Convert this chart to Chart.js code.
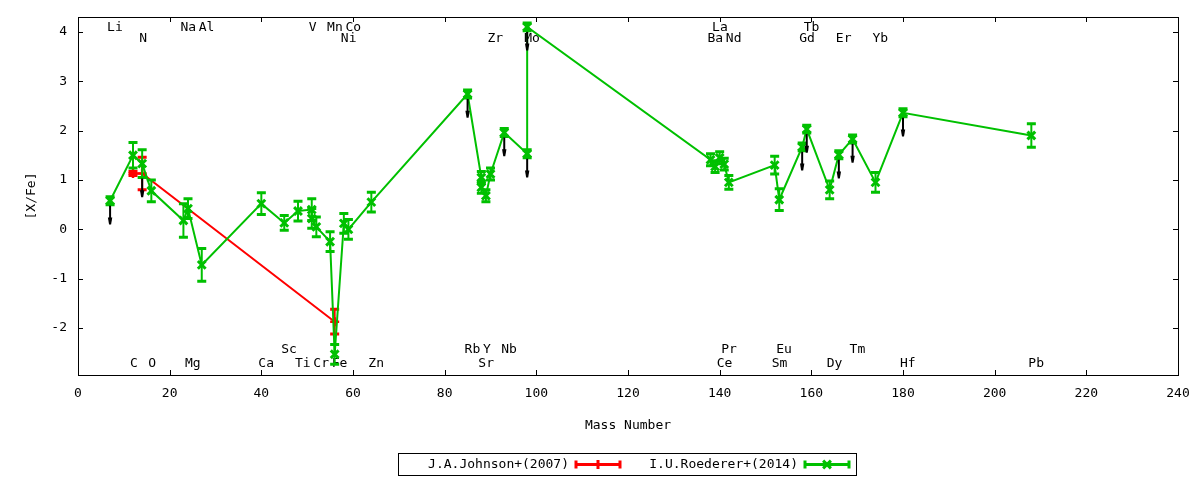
<!DOCTYPE html>
<html>
<head>
<meta charset="utf-8">
<script src="https://cdn.jsdelivr.net/npm/chart.js@4.4.0/dist/chart.umd.min.js"></script>
<style>
  html, body { margin: 0; padding: 0; background: #fff; }
  #wrap { width: 1200px; height: 480px; }
</style>
</head>
<body>
<div id="wrap"><canvas id="abundance" width="1200" height="480"></canvas></div>
<script>
"use strict";

// J.A.Johnson+(2007)
const johnsonMass  = [12, 14, 56];
const johnsonVal   = [1.13, 1.13, -1.87];
const johnsonErr   = [0.04, 0.33, 0.25];
const johnsonUpper = [0, 1, 0];

// I.U.Roederer+(2014)
const roedererMass  = [7, 12, 14, 16, 23, 24, 27, 40, 45, 48, 51, 51, 52, 55, 56, 58, 59, 64,
                       85, 88, 88, 89, 90, 93, 98, 98, 138, 139, 140, 141, 142, 152, 153,
                       158, 159, 164, 166, 169, 174, 180, 208];
const roedererVal   = [0.58, 1.50, 1.33, 0.78, 0.18, 0.42, -0.72, 0.52, 0.13, 0.37, 0.40, 0.22, 0.05, -0.25, -2.53, 0.12, 0.00, 0.55,
                       2.74, 1.05, 0.85, 0.68, 1.12, 1.96, 1.53, 4.10, 1.41, 1.27, 1.45, 1.32, 0.95, 1.30, 0.60,
                       1.67, 2.03, 0.80, 1.51, 1.83, 0.95, 2.36, 1.90];
const roedererErr   = [0.08, 0.26, 0.28, 0.22, 0.34, 0.20, 0.33, 0.22, 0.15, 0.20, 0.22, 0.20, 0.20, 0.20, 0.20, 0.20, 0.20, 0.20,
                       0.08, 0.12, 0.12, 0.12, 0.12, 0.08, 0.08, 0.08, 0.12, 0.12, 0.12, 0.12, 0.14, 0.18, 0.22,
                       0.08, 0.08, 0.18, 0.08, 0.08, 0.20, 0.08, 0.24];
const roedererUpper = [1, 0, 0, 0, 0, 0, 0, 0, 0, 0, 0, 0, 0, 0, 0, 0, 0, 0,
                       1, 0, 0, 0, 0, 1, 1, 1, 0, 0, 0, 0, 0, 0, 0,
                       1, 1, 0, 1, 1, 0, 1, 0];

// element labels: name, mass number, [X/Fe] height of the label
const elemNames  = ['Li', 'C', 'N', 'O', 'Na', 'Mg', 'Al', 'Ca', 'Sc', 'Ti', 'V', 'Cr', 'Mn', 'Fe', 'Co', 'Ni', 'Zn',
                    'Rb', 'Sr', 'Y', 'Zr', 'Nb', 'Mo', 'Ba', 'La', 'Ce', 'Pr', 'Nd', 'Sm', 'Eu',
                    'Gd', 'Tb', 'Dy', 'Er', 'Tm', 'Yb', 'Hf', 'Pb'];
const elemMass   = [7, 12, 14, 16, 23, 24, 27, 40, 45, 48, 51, 52, 55, 56, 59, 58, 64,
                    85, 88, 89, 90, 93, 98, 138, 139, 140, 141, 142, 152, 153,
                    158, 159, 164, 166, 169, 174, 180, 208];
const elemLabelY = [4.08, -2.71, 3.87, -2.71, 4.08, -2.71, 4.08, -2.71, -2.43, -2.71, 4.08, -2.71, 4.08, -2.71, 4.08, 3.87, -2.71,
                    -2.43, -2.71, -2.43, 3.87, -2.43, 3.87, 3.87, 4.08, -2.71, -2.43, 3.87, -2.71, -2.43,
                    3.87, 4.08, -2.71, 3.87, -2.43, 3.87, -2.71, -2.71];

const xTickValues = [0, 20, 40, 60, 80, 100, 120, 140, 160, 180, 200, 220, 240];
const yTickValues = [-2, -1, 0, 1, 2, 3, 4];

const FONT = "'DejaVu Sans Mono', monospace";
const ARROW_DROP = 0.48;   // length of the upper-limit arrows in dex

function toPoints(mass, val) {
    return mass.map((m, i) => ({ x: m, y: val[i] }));
}

// vertical error bars with caps, drawn right after each dataset
const errorBars = {
    id: 'errorBars',
    afterDatasetDraw(chart, args) {
        const ds = chart.data.datasets[args.index];
        if (!ds.errors) return;
        const { ctx } = chart;
        const ys = chart.scales.y;
        ctx.save();
        ctx.strokeStyle = ds.borderColor;
        args.meta.data.forEach((pt, i) => {
            const v = ds.data[i].y, e = ds.errors[i];
            const top = ys.getPixelForValue(v + e);
            const bot = ys.getPixelForValue(v - e);
            ctx.lineWidth = 2;
            ctx.beginPath();
            ctx.moveTo(pt.x, top); ctx.lineTo(pt.x, bot);
            ctx.stroke();
            ctx.lineWidth = 3;
            ctx.beginPath();
            ctx.moveTo(pt.x - 4.5, top); ctx.lineTo(pt.x + 4.5, top);
            ctx.moveTo(pt.x - 4.5, bot); ctx.lineTo(pt.x + 4.5, bot);
            ctx.stroke();
        });
        ctx.restore();
    }
};

// black arrows under the upper limits
const upperArrows = {
    id: 'upperArrows',
    afterDatasetsDraw(chart) {
        const { ctx } = chart;
        const ys = chart.scales.y;
        ctx.save();
        ctx.strokeStyle = '#000';
        ctx.fillStyle = '#000';
        ctx.lineWidth = 2;
        chart.data.datasets.forEach((ds, di) => {
            if (!ds.upper) return;
            chart.getDatasetMeta(di).data.forEach((pt, i) => {
                if (!ds.upper[i]) return;
                const tip = ys.getPixelForValue(ds.data[i].y - ARROW_DROP);
                ctx.beginPath();
                ctx.moveTo(pt.x, pt.y + 5); ctx.lineTo(pt.x, tip - 4);
                ctx.stroke();
                ctx.beginPath();
                ctx.moveTo(pt.x - 2.2, tip - 7);
                ctx.lineTo(pt.x + 2.2, tip - 7);
                ctx.lineTo(pt.x + 1, tip);
                ctx.lineTo(pt.x - 1, tip);
                ctx.closePath();
                ctx.fill();
            });
        });
        ctx.restore();
    }
};

// gnuplot style frame, inward ticks and element names
const frame = {
    id: 'frame',
    beforeDatasetsDraw(chart) {
        const { ctx, chartArea: a } = chart;
        const xs = chart.scales.x, ys = chart.scales.y;
        ctx.save();
        ctx.strokeStyle = '#000';
        ctx.lineWidth = 1;
        ctx.strokeRect(Math.round(a.left) + 0.5, Math.round(a.top) + 0.5,
                       Math.round(a.right - a.left), Math.round(a.bottom - a.top));
        ctx.beginPath();
        xTickValues.forEach(v => {
            const px = Math.round(xs.getPixelForValue(v)) + 0.5;
            ctx.moveTo(px, a.bottom); ctx.lineTo(px, a.bottom - 5);
            ctx.moveTo(px, a.top); ctx.lineTo(px, a.top + 5);
        });
        yTickValues.forEach(v => {
            const py = Math.round(ys.getPixelForValue(v)) + 0.5;
            ctx.moveTo(a.left, py); ctx.lineTo(a.left + 5, py);
            ctx.moveTo(a.right, py); ctx.lineTo(a.right - 5, py);
        });
        ctx.stroke();

        ctx.fillStyle = '#000';
        ctx.font = '13px ' + FONT;
        ctx.textAlign = 'left';
        ctx.textBaseline = 'middle';
        elemNames.forEach((name, i) => {
            ctx.fillText(name, xs.getPixelForValue(elemMass[i]) - 3, ys.getPixelForValue(elemLabelY[i]));
        });
        ctx.restore();
    }
};

// boxed key under the plot
const keyBox = {
    id: 'keyBox',
    afterDraw(chart) {
        const { ctx } = chart;
        const slots = [
            { textRight: 569, x0: 576, x1: 620 },
            { textRight: 798, x0: 805, x1: 849 }
        ];
        const yc = 464.5;
        ctx.save();
        ctx.strokeStyle = '#000';
        ctx.lineWidth = 1;
        ctx.strokeRect(398.5, 453.5, 458, 22);
        ctx.font = '13px ' + FONT;
        ctx.fillStyle = '#000';
        ctx.textAlign = 'right';
        ctx.textBaseline = 'middle';
        chart.data.datasets.forEach((ds, i) => {
            const s = slots[i];
            ctx.fillStyle = '#000';
            ctx.fillText(ds.label, s.textRight, yc);
            ctx.strokeStyle = ds.borderColor;
            ctx.lineWidth = 3;
            ctx.beginPath();
            ctx.moveTo(s.x0, yc); ctx.lineTo(s.x1, yc);
            ctx.moveTo(s.x0, yc - 4); ctx.lineTo(s.x0, yc + 4);
            ctx.moveTo(s.x1, yc - 4); ctx.lineTo(s.x1, yc + 4);
            ctx.stroke();
            Chart.helpers.drawPoint(ctx, {
                pointStyle: ds.pointStyle, radius: ds.pointRadius, borderWidth: ds.pointBorderWidth
            }, (s.x0 + s.x1) / 2, yc);
        });
        ctx.restore();
    }
};

const axisFont = { family: FONT, size: 13 };

new Chart(document.getElementById('abundance'), {
    type: 'line',
    data: {
        datasets: [
            {
                label: 'J.A.Johnson+(2007)',
                data: toPoints(johnsonMass, johnsonVal),
                errors: johnsonErr, upper: johnsonUpper,
                borderColor: '#ff0000', backgroundColor: '#ff0000',
                borderWidth: 2, pointStyle: 'cross', pointRadius: 4.5, pointBorderWidth: 2.5,
                pointBorderColor: '#ff0000', order: 1
            },
            {
                label: 'I.U.Roederer+(2014)',
                data: toPoints(roedererMass, roedererVal),
                errors: roedererErr, upper: roedererUpper,
                borderColor: '#00c000', backgroundColor: '#00c000',
                borderWidth: 2, pointStyle: 'crossRot', pointRadius: 5.5, pointBorderWidth: 3,
                pointBorderColor: '#00c000', order: 0
            }
        ]
    },
    options: {
        responsive: false,
        animation: false,
        events: [],
        layout: { padding: { left: 0, right: 22, top: 17, bottom: 0 } },
        plugins: { legend: { display: false }, tooltip: { enabled: false } },
        scales: {
            x: {
                type: 'linear', min: 0, max: 240,
                grid: { display: false, drawTicks: true, tickLength: 11 },
                border: { display: false },
                ticks: { padding: 0, color: '#000', font: axisFont, maxRotation: 0, autoSkip: false },
                afterBuildTicks: s => { s.ticks = xTickValues.map(v => ({ value: v })); },
                afterFit: s => { s.height = 105; },
                title: { display: true, text: 'Mass Number', color: '#000', font: axisFont, padding: { top: 0, bottom: 47 } }
            },
            y: {
                type: 'linear', min: -2.95, max: 4.3,
                grid: { display: false, drawTicks: true, tickLength: 11 },
                border: { display: false },
                ticks: { padding: 0, color: '#000', font: axisFont, autoSkip: false },
                afterBuildTicks: s => { s.ticks = yTickValues.map(v => ({ value: v })); },
                afterFit: s => { s.width = 78; },
                title: { display: true, text: '[X/Fe]', color: '#000', font: axisFont, padding: { top: 24, bottom: 0 } }
            }
        }
    },
    plugins: [frame, errorBars, upperArrows, keyBox]
});
</script>
</body>
</html>
